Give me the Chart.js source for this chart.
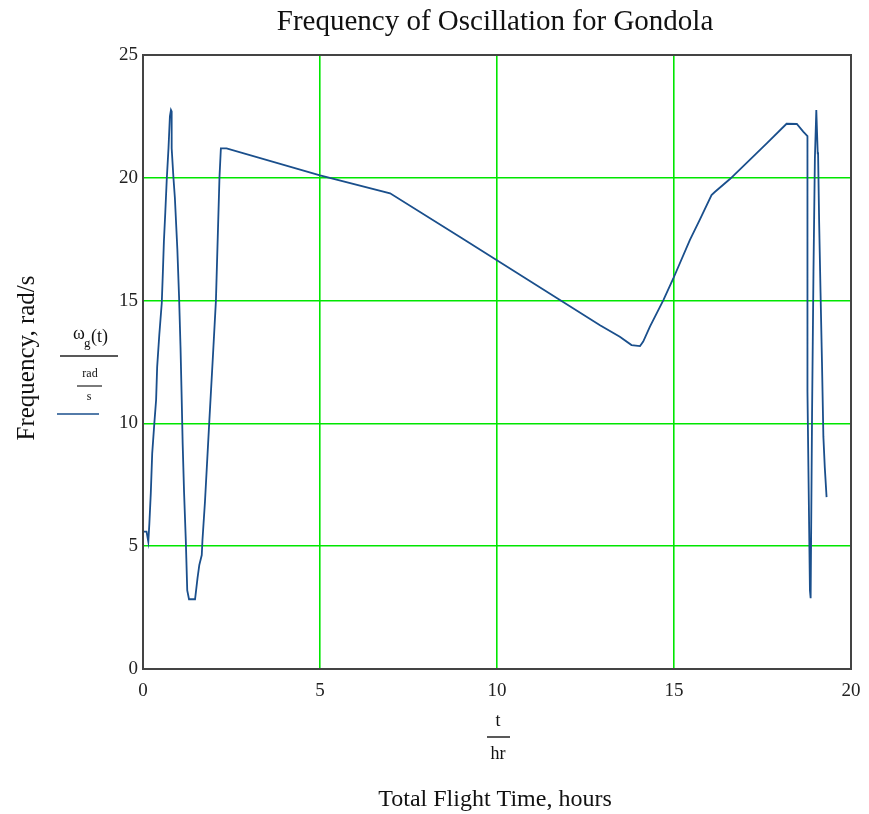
<!DOCTYPE html>
<html>
<head>
<meta charset="utf-8">
<script src="https://cdn.jsdelivr.net/npm/chart.js@4.4.1/dist/chart.umd.min.js"></script>
<style>
    html, body { margin: 0; padding: 0; background: #fff; }
    #wrap { width: 869px; height: 814px; }
</style>
</head>
<body>
<div id="wrap"><canvas id="freqChart" width="869" height="814"></canvas></div>
<script>
// ===== 数据 =====
// 飞行时间 t / hr
const hours = [
    0.00, 0.10, 0.15, 0.18, 0.22, 0.26, 0.32, 0.37, 0.40, 0.46, 0.53, 0.56, 0.59, 0.63, 0.67, 0.72, 0.76, 0.79, 0.81,
    0.81, 0.86, 0.90, 0.97, 1.02, 1.06, 1.09, 1.12, 1.16, 1.21, 1.25, 1.30, 1.47, 1.50, 1.54, 1.59, 1.66,
    1.68, 1.75, 1.87, 1.97, 2.06, 2.16, 2.20, 2.36, 5.00, 6.98,
    9.00, 12.91, 13.47, 13.80, 14.04, 14.13, 14.32, 14.70, 14.98, 15.45, 15.73, 16.06, 16.16,
    16.58, 17.62, 18.18, 18.47, 18.65, 18.77, 18.77, 18.84, 18.86,
    18.90, 18.94, 18.98, 19.02, 19.06, 19.07, 19.10, 19.14, 19.18, 19.22, 19.26, 19.31
];
// 吊舱振荡频率 ω_g / (rad/s)
const omega = [
    5.59, 5.59, 5.18, 5.93, 7.15, 8.78, 10.0, 10.95, 12.3, 13.6, 14.9, 16.1, 17.4, 18.6, 19.9, 21.2, 22.5, 22.76, 22.7,
    21.2, 20.0, 19.2, 17.1, 15.1, 13.1, 11.2, 9.2, 7.2, 5.2, 3.2, 2.84, 2.84, 3.2, 3.7, 4.23, 4.64,
    5.25, 6.8, 10.0, 12.6, 15.0, 20.0, 21.2, 21.2, 20.1, 19.37,
    17.55, 14.0, 13.53, 13.19, 13.15, 13.33, 13.94, 15.02, 15.9, 17.47, 18.3, 19.3, 19.43,
    19.95, 21.4, 22.2, 22.19, 21.88, 21.7, 11.3, 3.2, 2.88,
    10.4, 16.2, 20.8, 22.76, 21.0, 21.0, 18.2, 15.3, 12.5, 9.45, 8.2, 7.0
];
const xTicks = [0, 5, 10, 15, 20];
const yTicks = [0, 5, 10, 15, 20, 25];

const SERIF = "'Liberation Serif', 'Times New Roman', serif";
const GREEN = '#00e600';
const BORDER = '#444444';
const LINE = '#1a4f8c';

// ===== 文字与边框 =====
const mathcadLabels = {
    id: 'mathcadLabels',
    afterDraw(chart) {
        const ctx = chart.ctx;
        const a = chart.chartArea;
        ctx.save();

        // 外框
        ctx.strokeStyle = BORDER;
        ctx.lineWidth = 2;
        ctx.strokeRect(a.left, a.top, a.right - a.left, a.bottom - a.top);

        ctx.fillStyle = '#111';
        ctx.textAlign = 'center';
        ctx.textBaseline = 'middle';

        // 标题
        ctx.font = '29px ' + SERIF;
        ctx.fillText('Frequency of Oscillation for Gondola', 495, 22);

        // x 轴标签
        ctx.font = '18px ' + SERIF;
        ctx.fillText('t', 498, 721);
        ctx.fillText('hr', 498, 754);
        ctx.strokeStyle = '#222';
        ctx.lineWidth = 1.5;
        ctx.beginPath();
        ctx.moveTo(487, 737); ctx.lineTo(510, 737);
        ctx.stroke();
        ctx.font = '24px ' + SERIF;
        ctx.fillText('Total Flight Time, hours', 495, 800);

        // y 轴标签
        ctx.save();
        ctx.translate(27, 358);
        ctx.rotate(-Math.PI / 2);
        ctx.font = '25px ' + SERIF;
        ctx.fillText('Frequency, rad/s', 0, 0);
        ctx.restore();

        ctx.textAlign = 'left';
        ctx.font = '18px ' + SERIF;
        ctx.fillText('\u03C9', 73, 334);
        ctx.font = '13px ' + SERIF;
        ctx.fillText('g', 84, 344);
        ctx.font = '18px ' + SERIF;
        ctx.fillText('(t)', 91, 337);
        ctx.beginPath();
        ctx.moveTo(60, 356); ctx.lineTo(118, 356);
        ctx.stroke();
        ctx.textAlign = 'center';
        ctx.font = '12px ' + SERIF;
        ctx.fillText('rad', 90, 374);
        ctx.beginPath();
        ctx.lineWidth = 1.2;
        ctx.moveTo(77, 386); ctx.lineTo(102, 386);
        ctx.stroke();
        ctx.fillText('s', 89, 397);
        ctx.strokeStyle = LINE;
        ctx.lineWidth = 1.5;
        ctx.beginPath();
        ctx.moveTo(57, 414); ctx.lineTo(99, 414);
        ctx.stroke();

        ctx.restore();
    }
};

const points = hours.map((h, i) => ({ x: h, y: omega[i] }));

new Chart(document.getElementById('freqChart'), {
    type: 'line',
    data: {
        datasets: [{
            data: points,
            borderColor: LINE,
            borderWidth: 1.8,
            pointRadius: 0,
            tension: 0,
            fill: false
        }]
    },
    options: {
        responsive: false,
        animation: false,
        layout: { padding: { top: 55, right: 18, bottom: 0, left: 0 } },
        plugins: {
            legend: { display: false },
            tooltip: { enabled: false }
        },
        scales: {
            x: {
                type: 'linear',
                min: 0,
                max: 20,
                afterFit(s) { s.height = 145; s.paddingLeft = 0; s.paddingRight = 0; },
                afterBuildTicks(s) { s.ticks = xTicks.map(v => ({ value: v })); },
                grid: {
                    drawTicks: false,
                    color: c => (c.tick.value === 0 || c.tick.value === 20) ? 'rgba(0,0,0,0)' : GREEN,
                    lineWidth: 1.6
                },
                border: { display: false },
                ticks: { padding: 11, color: '#222', font: { family: SERIF, size: 19 } }
            },
            y: {
                min: 0,
                max: 25,
                afterFit(s) { s.width = 143; s.paddingTop = 0; s.paddingBottom = 0; },
                afterBuildTicks(s) { s.ticks = yTicks.map(v => ({ value: v })); },
                grid: {
                    drawTicks: false,
                    color: c => (c.tick.value === 0 || c.tick.value === 25) ? 'rgba(0,0,0,0)' : GREEN,
                    lineWidth: 1.6
                },
                border: { display: false },
                ticks: { padding: 5, color: '#222', font: { family: SERIF, size: 19 } }
            }
        }
    },
    plugins: [mathcadLabels]
});
</script>
</body>
</html>
